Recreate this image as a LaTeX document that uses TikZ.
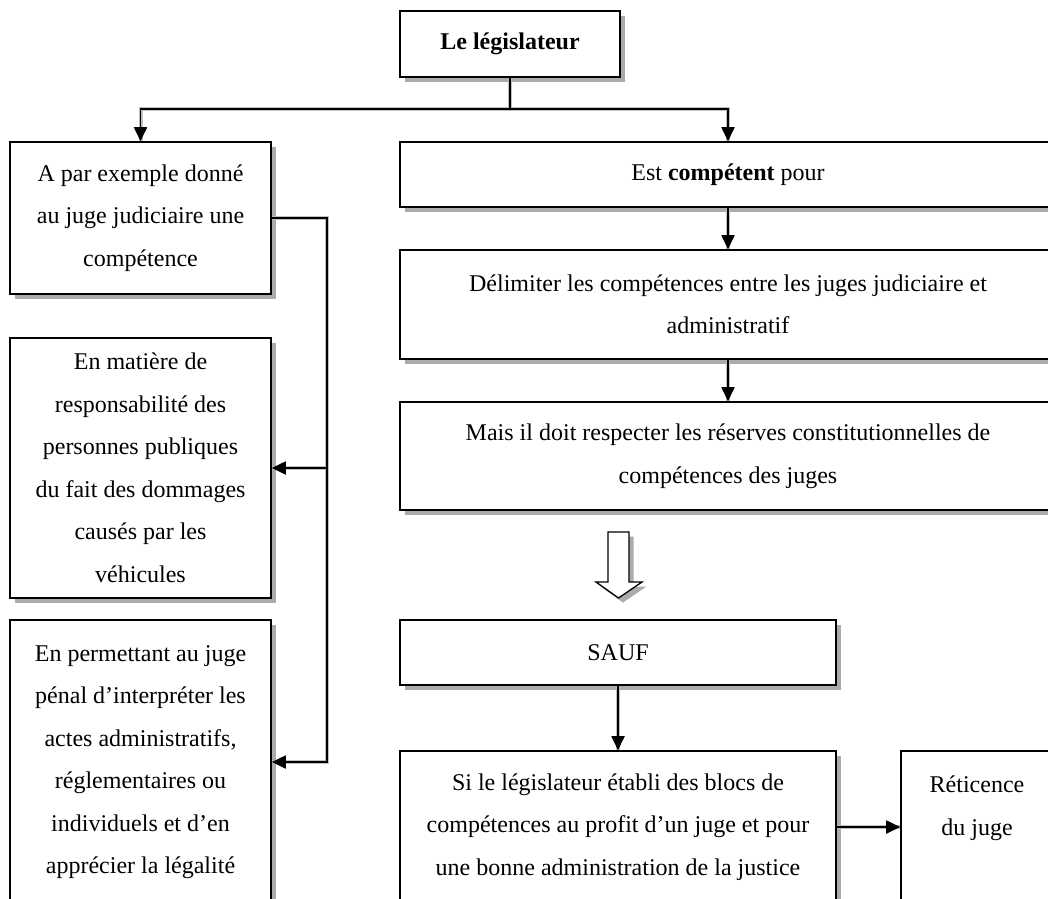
\documentclass[tikz,border=0pt]{standalone}
\usepackage{fontspec}
\setmainfont{Liberation Serif}
\usetikzlibrary{arrows.meta,shadows}
\begin{document}
\begin{tikzpicture}[x=1pt,y=-1pt,
  shad/.style={drop shadow={shadow xshift=4.5pt,shadow yshift=-4.5pt,fill=black!55,opacity=0.6}},
  box/.style={draw,line width=1.6pt,fill=white,align=center,inner sep=0pt,shad,
    font=\fontsize{24}{42.5}\selectfont},
  lineshadow/.style={draw=black!25,line width=4pt},
  conn/.style={line width=1.8pt},
  arr/.style={conn,-{Triangle[length=14pt,width=13pt]}}]
\clip (0,0) rectangle (1048,898);
\fill[white] (0,0) rectangle (1048,898);

% nodes
\node[box,line width=2.8pt,minimum width=220,minimum height=66] (leg) at (510,44) {\textbf{Le législateur}};
\node[box,minimum width=261,minimum height=152] (a1) at (140.5,218)
  {A par exemple donné\\au juge judiciaire une\\compétence};
\node[box,minimum width=261,minimum height=260] (a2) at (140.5,468)
  {En matière de\\responsabilité des\\personnes publiques\\du fait des dommages\\causés par les\\véhicules};
\node[box,minimum width=261,minimum height=284] (a3) at (140.5,762)
  {En permettant au juge\\pénal d’interpréter les\\actes administratifs,\\réglementaires ou\\individuels et d’en\\apprécier la légalité};
\node[box,minimum width=656,minimum height=65] (r1) at (728,174.5) {Est \textbf{compétent} pour};
\node[box,minimum width=656,minimum height=109] (r2) at (728,304.5)
  {Délimiter les compétences entre les juges judiciaire et\\administratif};
\node[box,minimum width=656,minimum height=108] (r3) at (728,456)
  {Mais il doit respecter les réserves constitutionnelles de\\compétences des juges};
\node[box,minimum width=436,minimum height=65] (sauf) at (618,652.5) {SAUF};
\node[box,minimum width=436,minimum height=152] (si) at (618,827)
  {Si le législateur établi des blocs de\\compétences au profit d’un juge et pour\\une bonne administration de la justice};
\node[box,minimum width=152,minimum height=152] (ret) at (977,827)
  {Réticence\\du juge\\\mbox{}};

% hollow arrow
\draw[line width=1.3pt,fill=white,shad,line join=miter]
  (608,532) -- (629,532) -- (629,582) -- (642,582) -- (618.5,598) -- (596,582) -- (608,582) -- cycle;

% connector anchors
\coordinate (j) at (510,109);
\coordinate (v1) at (327,218);
\coordinate (v2) at (327,762);
\coordinate (v3) at (327,468);

% connector shadows
\begin{scope}[shift={(3,3)}]
\draw[lineshadow] (j) -- (leg.south);
\draw[lineshadow] (a1.north) -- (a1.north |- j) -- (r1.north |- j) -- (r1.north);
\draw[lineshadow] (r1.south) -- (r2.north);
\draw[lineshadow] (r2.south) -- (r3.north);
\draw[lineshadow] (sauf.south) -- (si.north);
\draw[lineshadow] (si.east) -- (ret.west);
\draw[lineshadow] (a1.east) -- (v1) -- (v2) -- (a3.east);
\draw[lineshadow] (v3) -- (a2.east);
\end{scope}

% connectors
\draw[conn] (leg.south) -- (j);
\draw[arr] (j) -| (a1.north);
\draw[arr] (j) -| (r1.north);
\draw[arr] (r1.south) -- (r2.north);
\draw[arr] (r2.south) -- (r3.north);
\draw[arr] (sauf.south) -- (si.north);
\draw[arr] (si.east) -- (ret.west);
\draw[arr] (a1.east) -- (v1) -- (v2) -- (a3.east);
\draw[arr] (v3) -- (a2.east);
\end{tikzpicture}
\end{document}
